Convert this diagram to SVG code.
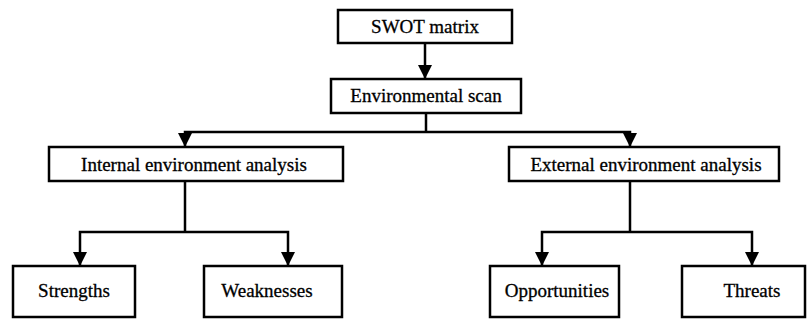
<svg xmlns="http://www.w3.org/2000/svg" width="807" height="320" viewBox="0 0 807 320">
<style>
  .box { fill: #fff; stroke: #000; stroke-width: 2.5; }
  .lbl { font-family: 'Liberation Serif', 'Times New Roman', serif; font-size: 19px; fill: #000; stroke: #000; stroke-width: 0.3; text-anchor: middle; }
  .conn { fill: none; stroke: #000; stroke-width: 2.5; }
</style>
<defs>
  <marker id="arr" viewBox="0 0 14 14" refX="14" refY="7" markerWidth="14" markerHeight="14" markerUnits="userSpaceOnUse" orient="auto">
    <path d="M0,0 L14,7 L0,14 Z" fill="#000"/>
  </marker>
</defs>
<rect width="807" height="320" fill="#fff"/>
<g id="connectors">
  <path class="conn" d="M425,43 V79" marker-end="url(#arr)"/>
  <path class="conn" d="M426,113 V132"/>
  <path class="conn" d="M426,132 H185 V147" marker-end="url(#arr)"/>
  <path class="conn" d="M426,132 H630 V147" marker-end="url(#arr)"/>
  <path class="conn" d="M185,181 V232"/>
  <path class="conn" d="M185,232 H80 V266" marker-end="url(#arr)"/>
  <path class="conn" d="M185,232 H288 V266" marker-end="url(#arr)"/>
  <path class="conn" d="M630,181 V232"/>
  <path class="conn" d="M630,232 H542 V266" marker-end="url(#arr)"/>
  <path class="conn" d="M630,232 H752 V266" marker-end="url(#arr)"/>
</g>
<g id="swot">
  <rect class="box" x="338" y="10" width="174" height="33"/>
  <text class="lbl" x="425" y="33">SWOT matrix</text>
</g>
<g id="envscan">
  <rect class="box" x="331" y="79" width="190" height="34"/>
  <text class="lbl" x="426" y="102">Environmental scan</text>
</g>
<g id="internal">
  <rect class="box" x="49" y="147" width="294" height="34"/>
  <text class="lbl" x="194" y="171">Internal environment analysis</text>
</g>
<g id="external">
  <rect class="box" x="509" y="147" width="270" height="34"/>
  <text class="lbl" x="646" y="171">External environment analysis</text>
</g>
<g id="strengths">
  <rect class="box" x="13" y="266" width="122" height="51"/>
  <text class="lbl" x="74" y="297">Strengths</text>
</g>
<g id="weaknesses">
  <rect class="box" x="204" y="266" width="138" height="51"/>
  <text class="lbl" x="267" y="297">Weaknesses</text>
</g>
<g id="opportunities">
  <rect class="box" x="490" y="266" width="129" height="51"/>
  <text class="lbl" x="557" y="297">Opportunities</text>
</g>
<g id="threats">
  <rect class="box" x="682" y="266" width="123" height="51"/>
  <text class="lbl" x="752" y="297">Threats</text>
</g>
</svg>
